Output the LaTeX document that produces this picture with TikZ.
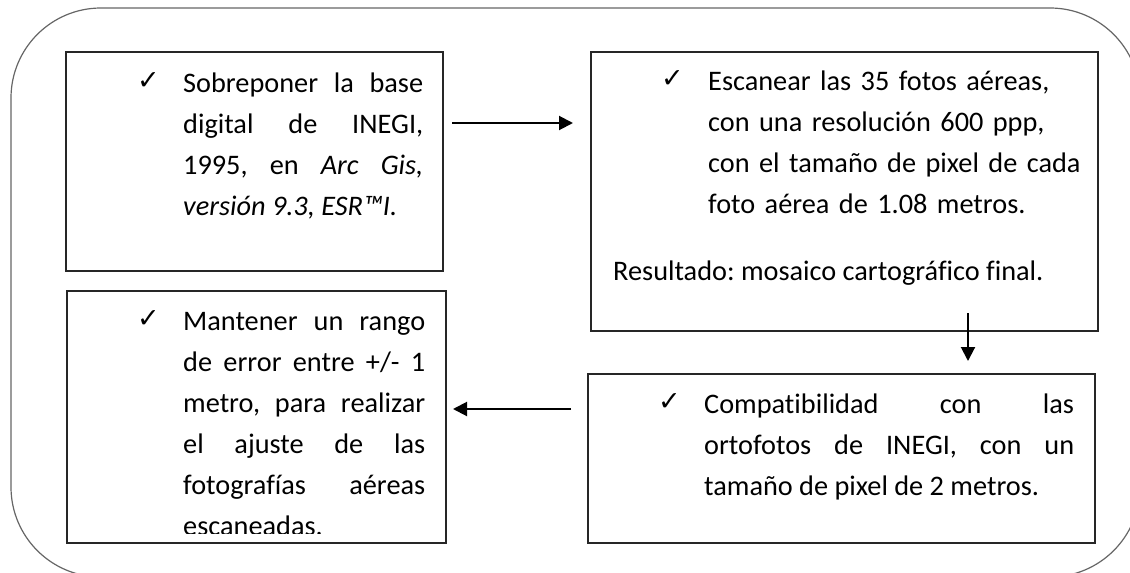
\documentclass[tikz,border=0pt]{standalone}
\usepackage{fontspec}
\setmainfont{Carlito}[Ligatures={NoCommon}]
\newfontfamily\checkfont{DejaVu Sans}
\usetikzlibrary{arrows.meta}
\frenchspacing

\tikzset{
  box/.style={draw=black!85, line width=1.8pt, inner sep=0pt, outer sep=0pt},
  txt/.style={inner sep=0pt, anchor=base west, font=\fontsize{28.3}{41}\selectfont},
  tick/.style={inner sep=0pt, anchor=base west, font=\checkfont\fontsize{27}{27}\selectfont},
  arr/.style={line width=2pt, -{Triangle[length=14pt,width=14pt]}}
}

\begin{document}
\begin{tikzpicture}[x=1pt,y=-1pt]
\useasboundingbox (0,0) rectangle (1130,573);
\begin{scope}
\clip (0,0) rectangle (1130,573);
\draw[black!60, line width=1.2pt, rounded corners=90pt] (11,8) rectangle (1140,577);
\end{scope}
% boxes
\node[box, minimum width=377pt, minimum height=219pt] (box1) at (254.5,161.5) {};
\node[box, minimum width=507pt, minimum height=279pt] (box2) at (844.5,191.5) {};
\node[box, minimum width=379pt, minimum height=252pt] (box3) at (256.5,417) {};
\node[box, minimum width=507pt, minimum height=169pt] (box4) at (841.5,458.5) {};
% texts
\node[tick] (c1) at (137,89) {✓};
\node[txt, text width=240pt, align=justify] (t1) at (183,92)
  {Sobreponer la base\linebreak digital de INEGI,\linebreak 1995, en \textit{Arc Gis,}\linebreak \textit{versión 9.3, ESR™I.}};
\node[tick] (c2) at (661,87) {✓};
\node[txt, text width=400pt, align=left] (t2) at (708,90)
  {Escanear las 35 fotos aéreas,\\ con una resolución 600 ppp,\\ con el tamaño de pixel de cada\\ foto aérea de 1.08 metros.};
\node[txt] (t2b) at (613,280) {Resultado: mosaico cartográfico final.};
\node[tick] (c3) at (137,327) {✓};
\begin{scope}
\clip (67,291) rectangle (446,533);
\node[txt, text width=242pt, align=justify] (t3) at (183,330)
  {Mantener un rango\linebreak de error entre +/- 1\linebreak metro, para realizar\linebreak el ajuste de las\linebreak fotografías aéreas\linebreak escaneadas.};
\end{scope}
\node[tick] (c4) at (658,410) {✓};
\node[txt, text width=370pt, align=justify] (t4) at (704,413)
  {Compatibilidad con las\linebreak ortofotos de INEGI, con un\linebreak tamaño de pixel de 2 metros.};
% arrows
\coordinate (a1) at (452,123);
\coordinate (a2) at (968,313);
\coordinate (a3) at (571,409);
\draw[arr, shorten >=18pt] (a1) -- (a1 -| box2.west);
\draw[arr, shorten >=13pt] (a2) -- (a2 |- box4.north);
\draw[arr, shorten >=7pt] (a3) -- (a3 -| box3.east);
\end{tikzpicture}
\end{document}
